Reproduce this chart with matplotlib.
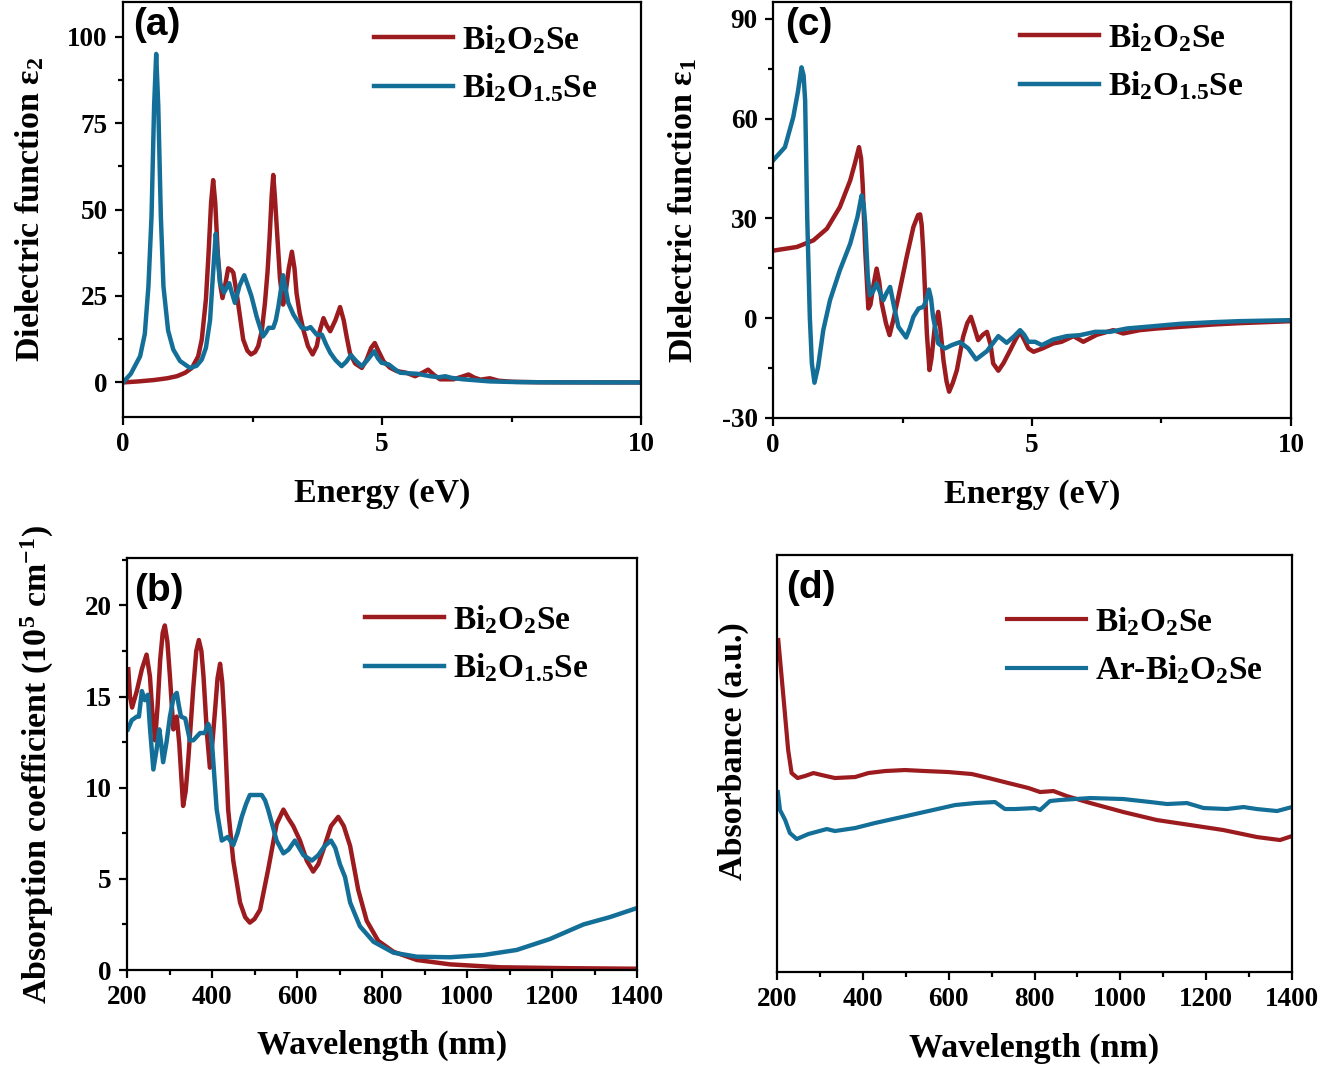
import matplotlib
matplotlib.use('Agg')
import matplotlib.pyplot as plt
from matplotlib.ticker import MultipleLocator, NullLocator

# ---- data ----
# (a) imaginary part eps2 vs energy (eV)
e_a_red = [0, 0.3, 0.6, 0.85, 1.04, 1.2, 1.33, 1.45, 1.52, 1.6, 1.65, 1.70, 1.74, 1.78, 1.83, 1.88,
           1.92, 1.97, 2.03, 2.09, 2.13, 2.18, 2.23, 2.32, 2.4, 2.47, 2.55, 2.61, 2.68, 2.74, 2.79,
           2.83, 2.87, 2.90, 2.93, 2.98, 3.03, 3.09, 3.14, 3.2, 3.26, 3.31, 3.35, 3.41, 3.48, 3.57,
           3.66, 3.74, 3.80, 3.87, 3.93, 4.0, 4.1, 4.19, 4.26, 4.32, 4.38, 4.48, 4.61, 4.7, 4.79,
           4.86, 4.94, 5.03, 5.15, 5.28, 5.47, 5.64, 5.78, 5.89, 6.0, 6.12, 6.38, 6.55, 6.67, 6.78,
           6.9, 7.08, 7.25, 7.5, 8, 9, 10]
eps2_red = [0, 0.3, 0.7, 1.2, 1.8, 2.8, 4.2, 7.5, 12.4, 24, 37, 52, 58.5, 52, 37, 28,
            24.4, 28, 33, 32.5, 31.7, 27, 22, 12.4, 9.2, 8.1, 8.8, 10.5, 15, 23, 32,
            42, 54, 60, 54, 42, 30, 22.5, 26, 33, 37.8, 33, 25.8, 20, 15.3, 10.5,
            8.1, 10.5, 15, 18.6, 16.5, 14.8, 18, 21.8, 18, 13, 8.5, 5.5, 4.2, 6.5, 10,
            11.4, 8.8, 6.1, 4.3, 3.3, 2.8, 1.8, 2.8, 3.7, 2.2, 0.9, 0.9, 1.7, 2.3, 1.4,
            0.8, 1.2, 0.5, 0.2, 0.05, 0.02, 0.0]
e_a_blue = [0, 0.15, 0.33, 0.42, 0.49, 0.55, 0.6, 0.64, 0.68, 0.73, 0.78, 0.87, 0.97, 1.1, 1.29,
            1.42, 1.52, 1.6, 1.68, 1.74, 1.79, 1.83, 1.87, 1.95, 2.05, 2.10, 2.16, 2.25, 2.34,
            2.41, 2.48, 2.58, 2.70, 2.76, 2.81, 2.90, 2.95, 3.0, 3.09, 3.14, 3.19, 3.29, 3.45,
            3.55, 3.62, 3.74, 3.84, 3.92, 4.0, 4.1, 4.22, 4.31, 4.40, 4.5, 4.61, 4.72, 4.85,
            4.92, 4.99, 5.13, 5.25, 5.35, 5.68, 5.93, 6.1, 6.22, 6.35, 6.57, 7.08, 7.6, 8.5, 10]
eps2_blue = [0, 2.5, 7.6, 14, 27.8, 48, 80, 95, 80, 48, 27.8, 15, 9.5, 6.2, 4.2,
             4.8, 6.6, 10, 18, 32, 43, 36, 28.8, 26, 28.7, 26, 23, 28, 31,
             28, 24.9, 19, 13.3, 14.5, 15.8, 15.8, 18, 22, 31, 27, 23, 19.6, 15.8,
             15.5, 16, 13.8, 13.8, 11, 8.6, 6.5, 4.7, 6, 7.9, 6.2, 4.7, 6.5, 9.0,
             7, 5.7, 5.2, 3.8, 2.8, 2.5, 1.8, 1.5, 1.8, 1.3, 0.9, 0.3, 0.1, 0.02, 0.0]

# (c) real part eps1 vs energy (eV)
e_c_red = [0, 0.46, 0.78, 1.04, 1.29, 1.49, 1.58, 1.66, 1.70, 1.73, 1.78, 1.84, 1.88, 1.94, 2.00,
           2.05, 2.10, 2.18, 2.25, 2.33, 2.42, 2.58, 2.71, 2.80, 2.84, 2.87, 2.90, 2.97, 3.02,
           3.06, 3.12, 3.19, 3.23, 3.29, 3.35, 3.40, 3.47, 3.55, 3.67, 3.75, 3.82, 3.88, 3.96,
           4.05, 4.13, 4.20, 4.25, 4.35, 4.45, 4.58, 4.68, 4.77, 4.85, 4.93, 5.03, 5.2, 5.41,
           5.57, 5.80, 5.99, 6.25, 6.57, 6.76, 7.08, 7.41, 7.86, 8.5, 9.0, 10]
eps1_red = [20.3, 21.4, 23.4, 26.9, 33.4, 41.4, 46.5, 51.4, 48, 40.4, 20.4, 2.9, 4, 10, 14.9,
            11, 4.4, -1.5, -5.1, 0, 6.4, 18.4, 27.4, 31, 31.2, 28, 20.4, -4.6, -15.6,
            -12, -3, 1.9, -3, -12.6, -19, -22.1, -19.5, -15.6, -5.6, -1.5, 0.4, -2.5, -6.6,
            -5, -4.1, -8, -13.6, -15.8, -13.5, -9.6, -6.5, -4.1, -6.5, -9.1, -10.1, -9.1, -7.6,
            -7.1, -5.4, -7.1, -5, -3.6, -4.6, -3.6, -3.1, -2.6, -1.9, -1.5, -0.9]
e_c_blue = [0, 0.23, 0.39, 0.48, 0.55, 0.59, 0.62, 0.66, 0.71, 0.75, 0.80, 0.87, 0.97, 1.10, 1.29,
            1.49, 1.63, 1.71, 1.75, 1.78, 1.83, 1.87, 1.93, 2.00, 2.06, 2.13, 2.19, 2.26, 2.33,
            2.42, 2.57, 2.64, 2.71, 2.81, 2.90, 2.95, 3.01, 3.05, 3.09, 3.19, 3.32, 3.45, 3.61,
            3.77, 3.92, 4.13, 4.35, 4.51, 4.65, 4.77, 4.85, 4.93, 5.06, 5.19, 5.41, 5.67, 5.93,
            6.22, 6.51, 6.83, 7.35, 7.86, 8.5, 9.0, 10]
eps1_blue = [47.4, 51.4, 60.4, 68, 75.4, 73, 65.4, 30.4, 0.4, -13.6, -19.4, -14.6, -3.6, 5.4, 14.4,
             22.4, 30.4, 36.9, 34, 28.4, 12.4, 6.9, 8, 10.4, 8, 5.4, 7.5, 9.4, 4,
             -2.6, -5.8, -3, 0.4, 2.9, 3.4, 5, 8.6, 6, 0.4, -7.6, -9.1, -8.1, -7.2,
             -9.1, -12.4, -9.9, -5.4, -7.4, -5.5, -3.6, -5, -7.1, -7.1, -8.1, -6.4, -5.4, -5.1,
             -4.1, -4.1, -3.1, -2.4, -1.7, -1.2, -0.9, -0.6]

# (b) absorption coefficient (1e5 cm^-1) vs wavelength (nm)
wl_b_red = [203, 207, 212, 223, 235, 246, 254, 260, 266, 272, 278, 284, 289, 295, 301, 309, 317,
            323, 332, 338, 344, 356, 363, 369, 375, 380, 388, 395, 401, 407, 413, 419, 424, 429,
            438, 450, 466, 478, 489, 500, 513, 532, 552, 568, 580, 591, 607, 623, 638, 650, 662,
            680, 697, 710, 725, 744, 764, 791, 827, 882, 960, 1078, 1235, 1400]
abs_red = [16.5, 15.0, 14.4, 15.3, 16.5, 17.3, 16.1, 14, 12.6, 14.5, 17.0, 18.5, 18.9, 18, 16.1, 13.2, 13.9,
           12.4, 9.0, 9.8, 11.5, 15.5, 17.5, 18.1, 17.5, 16.1, 13, 11.1, 12.5, 14.2, 16, 16.8, 15.8, 13.7,
           8.8, 6.0, 3.7, 2.9, 2.6, 2.8, 3.3, 5.5, 8.0, 8.8, 8.3, 7.9, 7.1, 6.0, 5.4, 5.8, 6.6,
           7.9, 8.4, 7.9, 6.8, 4.4, 2.7, 1.6, 1.0, 0.55, 0.31, 0.15, 0.1, 0.07]
wl_b_blue = [202, 211, 223, 228, 235, 242, 249, 254, 262, 269, 276, 280, 285, 293, 301, 310, 317,
             322, 327, 337, 348, 356, 364, 372, 383, 391, 396, 401, 411, 423, 430, 437, 450, 460,
             470, 480, 489, 505, 517, 525, 532, 552, 568, 580, 595, 605, 615, 635, 650, 665, 680,
             690, 701, 713, 725, 748, 780, 827, 882, 960, 1038, 1117, 1195, 1274, 1336, 1400]
abs_blue = [13.2, 13.7, 13.9, 13.9, 15.3, 14.8, 15.1, 13.3, 11.0, 12, 13.2, 12.5, 11.4, 12.5, 13.9, 15.0, 15.2,
            14.5, 13.9, 13.8, 12.6, 12.6, 12.8, 13.0, 13.0, 13.5, 13.2, 12.1, 8.8, 7.1, 7.2, 7.3, 6.85, 7.5,
            8.4, 9.1, 9.6, 9.6, 9.6, 9.3, 8.8, 7.1, 6.4, 6.6, 7.1, 6.7, 6.3, 6.0, 6.3, 6.8, 7.1,
            6.7, 5.8, 5.1, 3.7, 2.4, 1.55, 0.95, 0.73, 0.7, 0.82, 1.1, 1.7, 2.5, 2.9, 3.4]

# (d) measured absorbance (a.u.) vs wavelength (nm)
wl_d_red = [203, 215, 226, 234, 248, 265, 285, 304, 335, 382, 413, 452, 498, 545, 599, 654, 693,
            739, 786, 813, 844, 875, 930, 1007, 1085, 1163, 1240, 1318, 1372, 1400]
absb_red = [3.32, 2.75, 2.22, 1.99, 1.94, 1.96, 1.99, 1.97, 1.94, 1.95, 1.99, 2.01, 2.02, 2.01, 2.00,
            1.98, 1.94, 1.89, 1.84, 1.80, 1.81, 1.76, 1.69, 1.60, 1.52, 1.47, 1.42, 1.35, 1.32, 1.36]
wl_d_blue = [202, 207, 219, 230, 246, 273, 316, 335, 382, 428, 491, 553, 615, 662, 708, 731, 755,
             801, 813, 836, 859, 930, 1007, 1070, 1109, 1155, 1194, 1248, 1287, 1318, 1365, 1400]
absb_blue = [1.80, 1.62, 1.52, 1.39, 1.33, 1.38, 1.43, 1.41, 1.44, 1.49, 1.55, 1.61, 1.67, 1.69, 1.70,
             1.63, 1.63, 1.64, 1.62, 1.71, 1.72, 1.74, 1.73, 1.70, 1.68, 1.69, 1.64, 1.63, 1.65, 1.63,
             1.61, 1.65]

lab_bi2o2se = 'Bi$_2$O$_2$Se'
lab_bi2o15se = 'Bi$_2$O$_{1.5}$Se'
lab_ar = 'Ar-Bi$_2$O$_2$Se'

red = '#9b1b1f'
blue = '#146f98'
lw = 3.2

plt.rcParams['font.family'] = 'Liberation Serif'
plt.rcParams['font.weight'] = 'bold'
plt.rcParams['axes.labelweight'] = 'bold'
plt.rcParams['mathtext.default'] = 'regular'
plt.rcParams['axes.unicode_minus'] = False
plt.rcParams['axes.linewidth'] = 1.6

fig = plt.figure(figsize=(13.23, 10.69), dpi=100)
ax_a = fig.add_axes([0.0930, 0.6099, 0.3915, 0.3882])
ax_c = fig.add_axes([0.5843, 0.6090, 0.3915, 0.3890])
ax_b = fig.add_axes([0.0960, 0.0926, 0.3855, 0.3854])
ax_d = fig.add_axes([0.5873, 0.0907, 0.3893, 0.3901])


def style(ax, tag, tag_xy, xlabel, ylabel, xlab_y, ylab_x, ylab_y=0.5):
    ax.tick_params(which='both', direction='out', width=1.6, labelsize=19.5, pad=5,
                   top=False, right=False)
    ax.tick_params(which='major', length=6)
    ax.tick_params(which='minor', length=3.5)
    ax.set_xlabel(xlabel, fontsize=24.5, weight='bold')
    ax.set_ylabel(ylabel, fontsize=24.5, weight='bold')
    ax.xaxis.set_label_coords(0.5, xlab_y)
    ax.xaxis.label.set_va('center')
    ax.yaxis.set_label_coords(ylab_x, ylab_y)
    ax.yaxis.label.set_va('center')
    ax.text(tag_xy[0], tag_xy[1], tag, transform=ax.transAxes, fontsize=28,
            family='Liberation Sans', weight='bold', ha='center', va='center')


def add_legend(ax, x0, y0):
    ax.legend(loc='upper left', bbox_to_anchor=(x0, y0), frameon=False, fontsize=24,
              handlelength=2.37, handletextpad=0.27, labelspacing=0.47, borderpad=0,
              borderaxespad=0)


# (a)
ax_a.plot(e_a_red, eps2_red, color=red, lw=lw, label=lab_bi2o2se)
ax_a.plot(e_a_blue, eps2_blue, color=blue, lw=lw, label=lab_bi2o15se)
ax_a.set_xlim(0, 10)
ax_a.set_ylim(-10, 110)
ax_a.xaxis.set_major_locator(MultipleLocator(5))
ax_a.xaxis.set_minor_locator(MultipleLocator(2.5))
ax_a.set_yticks([0, 25, 50, 75, 100])
ax_a.yaxis.set_minor_locator(MultipleLocator(12.5))
style(ax_a, '(a)', (0.066, 0.945), 'Energy (eV)', 'Dielectric function ε$_2$', -0.185, -0.18)
add_legend(ax_a, 0.485, 0.949)

# (c)
ax_c.plot(e_c_red, eps1_red, color=red, lw=lw, label=lab_bi2o2se)
ax_c.plot(e_c_blue, eps1_blue, color=blue, lw=lw, label=lab_bi2o15se)
ax_c.set_xlim(0, 10)
ax_c.set_ylim(-30, 95)
ax_c.xaxis.set_major_locator(MultipleLocator(5))
ax_c.xaxis.set_minor_locator(MultipleLocator(2.5))
ax_c.set_yticks([-30, 0, 30, 60, 90])
ax_c.yaxis.set_minor_locator(MultipleLocator(15))
style(ax_c, '(c)', (0.07, 0.945), 'Energy (eV)', 'Dlelectric function ε$_1$', -0.185, -0.174)
add_legend(ax_c, 0.477, 0.954)

# (b)
ax_b.plot(wl_b_red, abs_red, color=red, lw=lw, label=lab_bi2o2se)
ax_b.plot(wl_b_blue, abs_blue, color=blue, lw=lw, label=lab_bi2o15se)
ax_b.set_xlim(200, 1400)
ax_b.set_ylim(0, 22.6)
ax_b.xaxis.set_major_locator(MultipleLocator(200))
ax_b.xaxis.set_minor_locator(MultipleLocator(100))
ax_b.yaxis.set_major_locator(MultipleLocator(5))
ax_b.yaxis.set_minor_locator(MultipleLocator(2.5))
style(ax_b, '(b)', (0.063, 0.92), 'Wavelength (nm)',
      'Absorption coefficient (10$^5$ cm$^{-1}$)', -0.184, -0.175)
add_legend(ax_b, 0.467, 0.891)

# (d)
ax_d.plot(wl_d_red, absb_red, color=red, lw=3.0, label=lab_bi2o2se)
ax_d.plot(wl_d_blue, absb_blue, color=blue, lw=3.0, label=lab_ar)
ax_d.set_xlim(200, 1400)
ax_d.set_ylim(0, 4.17)
ax_d.xaxis.set_major_locator(MultipleLocator(200))
ax_d.xaxis.set_minor_locator(MultipleLocator(100))
ax_d.yaxis.set_major_locator(NullLocator())
ax_d.yaxis.set_minor_locator(NullLocator())
style(ax_d, '(d)', (0.066, 0.921), 'Wavelength (nm)', 'Absorbance (a.u.)', -0.182, -0.085, 0.53)
add_legend(ax_d, 0.447, 0.880)

fig.savefig('out.png', dpi=100)
